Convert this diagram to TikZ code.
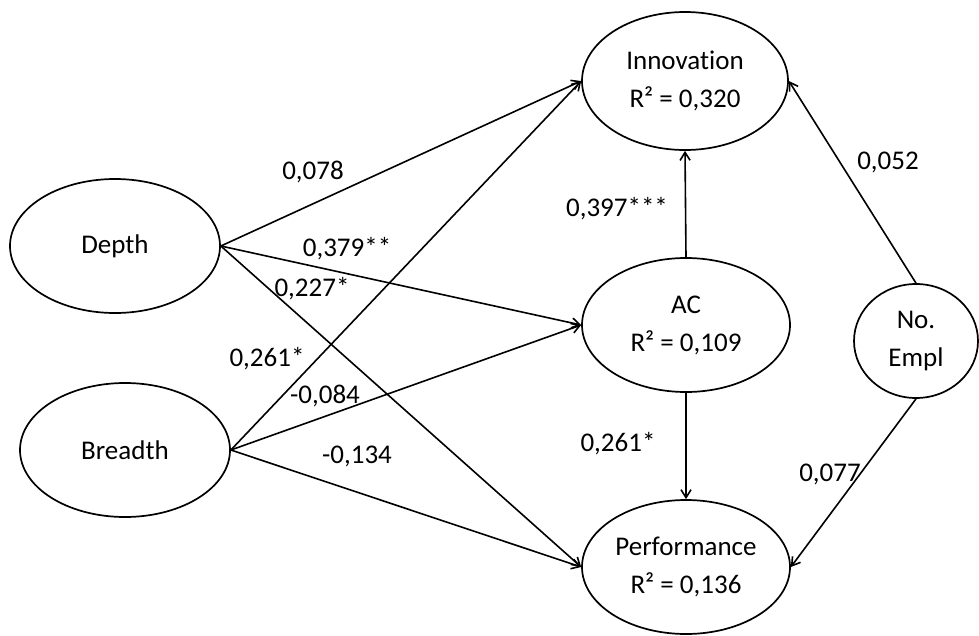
\documentclass[tikz,border=0pt]{standalone}
\usepackage{fontspec}
\setmainfont{Carlito}[Ligatures=NoCommon]
\usetikzlibrary{shapes.geometric,arrows.meta}
\begin{document}
\begin{tikzpicture}[x=1pt,y=-1pt,
  font=\fontsize{27}{38}\selectfont,
  latent/.style={draw, ellipse, line width=1.7pt, inner sep=0pt, align=center},
  path/.style={line width=1.6pt, -{Straight Barb[length=8pt,width=10pt,line width=1.6pt]}},
  coef/.style={inner sep=0pt}]
\useasboundingbox (0,0) rectangle (979,635);
% constructs
\node[latent, minimum width=210pt, minimum height=134pt] (depth) at (115,246) {Depth};
\node[latent, minimum width=210pt, minimum height=134pt] (breadth) at (125,450) {Breadth};
\node[latent, minimum width=206pt, minimum height=138pt] (innov) at (685,81) {Innovation\\R² = 0,320};
\node[latent, minimum width=208pt, minimum height=134pt] (ac) at (686,325) {AC\\R² = 0,109};
\node[latent, minimum width=208pt, minimum height=134pt] (perf) at (686,567) {Performance\\R² = 0,136};
\node[latent, minimum width=124pt, minimum height=114pt] (empl) at (916,341) {No.\\Empl};
% structural paths
\draw[path] (depth.east) -- (innov.west);
\draw[path] (depth.east) -- (ac.west);
\draw[path] (depth.east) -- (perf.west);
\draw[path] (breadth.east) -- (innov.west);
\draw[path] (breadth.east) -- (ac.west);
\draw[path] (breadth.east) -- (perf.west);
\draw[path] (ac.north) -- (innov.south);
\draw[path] (ac.south) -- (perf.north);
\draw[path] (empl.north) -- (innov.east);
\draw[path] (empl.south) -- (perf.east);
% path coefficients
\node[coef] (c1) at (313,172) {0,078};
\node[coef] (c2) at (347,249) {0,379**};
\node[coef] (c3) at (312,289) {0,227*};
\node[coef] (c4) at (267,359) {0,261*};
\node[coef] (c5) at (325,396) {-0,084};
\node[coef] (c6) at (357,456) {-0,134};
\node[coef] (c7) at (617,209) {0,397***};
\node[coef] (c8) at (888,162) {0,052};
\node[coef] (c9) at (618,444) {0,261*};
\node[coef] (c10) at (830,474) {0,077};
\end{tikzpicture}
\end{document}
